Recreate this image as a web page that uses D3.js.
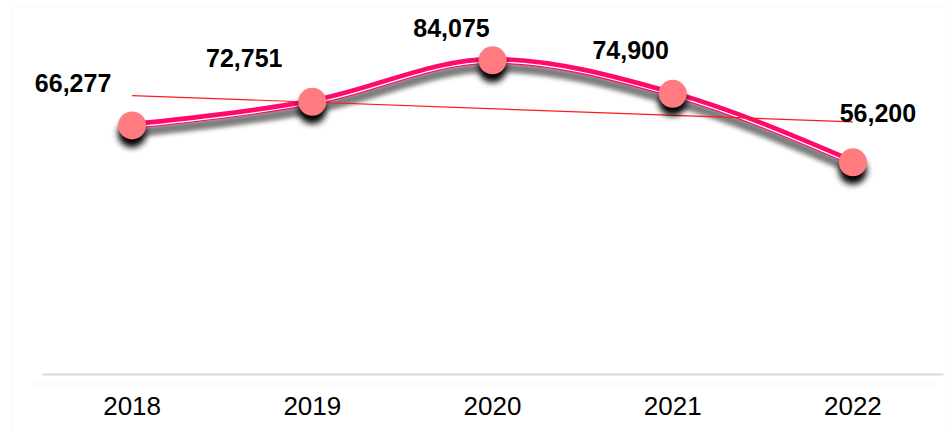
<!DOCTYPE html>
<html><head><meta charset="utf-8">
<script src="https://cdn.jsdelivr.net/npm/d3@7/dist/d3.min.js"></script>
<style>body{margin:0;background:#fff;}svg{display:block;font-family:"Liberation Sans",Arial,sans-serif;}</style>
</head><body>
<svg id="chart" width="948" height="433"></svg>
<script>
const years = ["2018", "2019", "2020", "2021", "2022"];
const values = [66277, 72751, 84075, 74900, 56200];
const labelOffsets = [[-59, -33], [-68, -35], [-41, -23], [-42, -35], [25, -40]];

const svg = d3.select("#chart");
const W = 948, H = 433;
const defs = svg.append("defs");
defs.append("filter").attr("id", "lineShadow").attr("x", "-10%").attr("y", "-50%").attr("width", "120%").attr("height", "200%")
  .append("feGaussianBlur").attr("stdDeviation", 2);
defs.append("filter").attr("id", "dotShadow").attr("x", "-100%").attr("y", "-100%").attr("width", "300%").attr("height", "300%")
  .append("feGaussianBlur").attr("stdDeviation", 3.2);

svg.append("rect").attr("x", 12.5).attr("y", 6.5).attr("width", W - 14).attr("height", H - 5)
  .attr("fill", "none").attr("stroke", "#f9f9f9");

const x = d3.scaleBand().domain(years).range([42, 943]);
const y = d3.scaleLinear().domain([0, 100000]).range([368, 2]);
const cx = d => x(d) + x.bandwidth() / 2;

// axis
const axis = svg.append("g").attr("transform", "translate(0,374)")
  .call(d3.axisBottom(x).tickSize(0).tickPadding(23));
axis.select(".domain").attr("stroke", "#d9d9d9").attr("stroke-width", 2);
axis.selectAll("text").attr("font-size", 26).attr("fill", "#000")
  .attr("font-family", "'Liberation Sans',Arial,sans-serif");
svg.append("rect").attr("x", 36).attr("y", 381).attr("width", 900).attr("height", 6).attr("fill", "#fbfbfb");

const pts = years.map((yr, i) => [cx(yr), y(values[i])]);
const line = d3.line().curve(d3.curveMonotoneX);

// line shadow
svg.append("path").attr("d", line(pts)).attr("fill", "none")
  .attr("stroke", "#6e6e6e").attr("stroke-width", 10).attr("opacity", 0.9)
  .attr("transform", "translate(0,7)").attr("filter", "url(#lineShadow)");
// main line
svg.append("path").attr("d", line(pts)).attr("fill", "none")
  .attr("stroke", "#ff0a6c").attr("stroke-width", 7);
svg.append("path").attr("d", line(pts)).attr("fill", "none")
  .attr("stroke", "#ffffff").attr("stroke-width", 1.2)
  .attr("transform", "translate(0,1.8)");

// trend line (linear regression)
const n = values.length;
const xs = d3.range(n);
const mx = d3.mean(xs), my = d3.mean(values);
const slope = d3.sum(xs, i => (i - mx) * (values[i] - my)) / d3.sum(xs, i => (i - mx) ** 2);
const icpt = my - slope * mx;
svg.append("line")
  .attr("x1", cx(years[0])).attr("y1", y(icpt))
  .attr("x2", cx(years[n - 1])).attr("y2", y(icpt + slope * (n - 1)))
  .attr("stroke", "#ff1a1a").attr("stroke-width", 1.2);

// dots
svg.append("g").selectAll("circle").data(pts).join("circle")
  .attr("cx", d => d[0]).attr("cy", d => d[1] + 8).attr("r", 14)
  .attr("fill", "#000").attr("filter", "url(#dotShadow)");
svg.append("g").selectAll("circle").data(pts).join("circle")
  .attr("cx", d => d[0]).attr("cy", d => d[1]).attr("r", 14)
  .attr("fill", "#ff7b80");

// labels
const fmt = d3.format(",");
svg.append("g").selectAll("text").data(values).join("text")
  .attr("x", (v, i) => pts[i][0] + labelOffsets[i][0])
  .attr("y", (v, i) => pts[i][1] + labelOffsets[i][1])
  .attr("text-anchor", "middle").attr("font-weight", "bold").attr("font-size", 25)
  .attr("fill", "#000").text(v => fmt(v));
</script>
</body></html>
